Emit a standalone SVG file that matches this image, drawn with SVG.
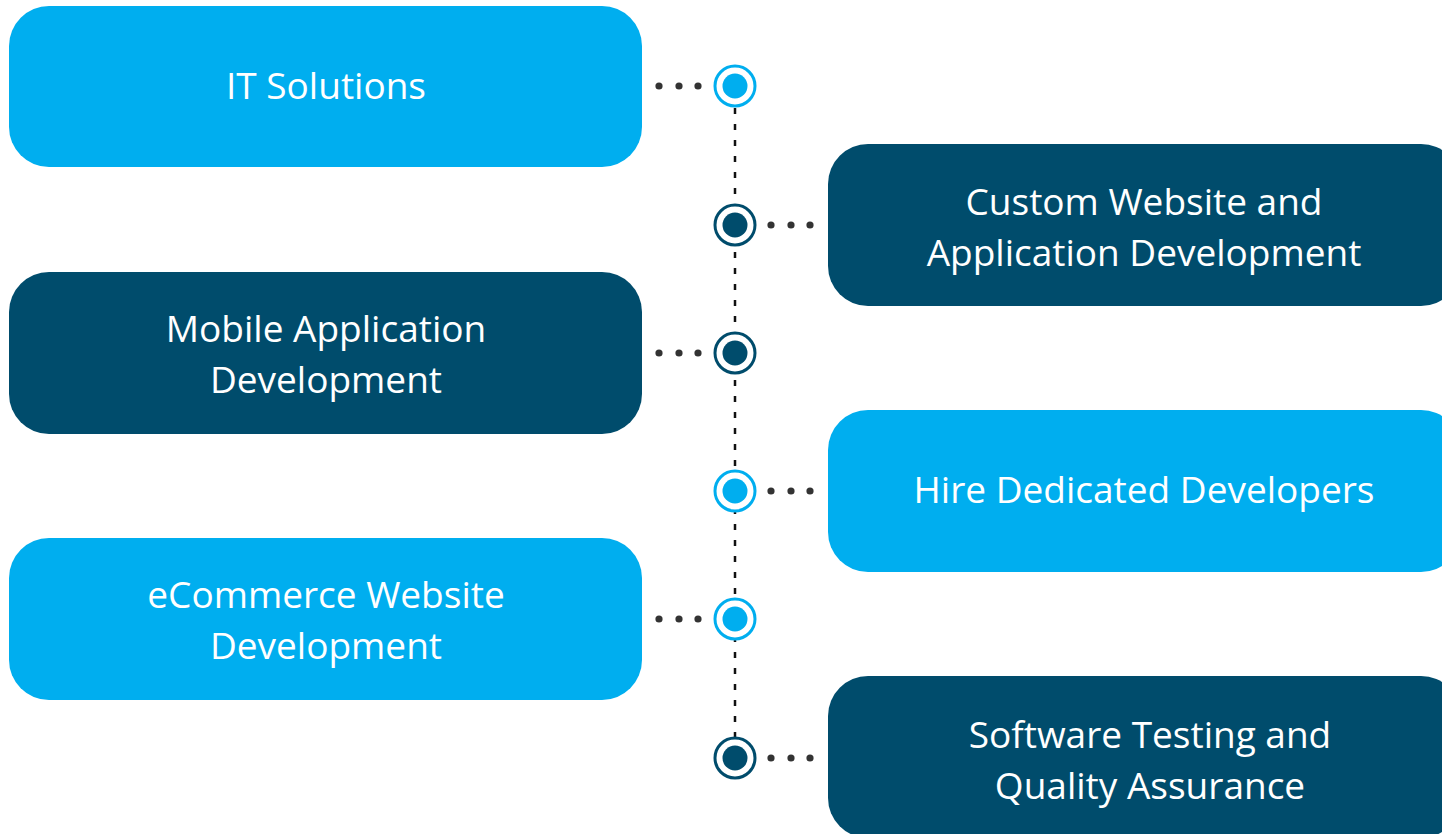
<svg xmlns="http://www.w3.org/2000/svg" width="1442" height="834" viewBox="0 0 1442 834">
<style>
.light{fill:#00AEEF}
.dark{fill:#004C6C}
.t{font-family:"Open Sans","Liberation Sans",sans-serif;font-size:37px;fill:#fff;text-anchor:middle}
.ringL{fill:#fff;stroke:#00AEEF;stroke-width:3}
.ringD{fill:#fff;stroke:#004C6C;stroke-width:3}
.dot{fill:#333}
</style>
<rect width="1442" height="834" fill="#fff"/>
<g id="connectors">
<line x1="735" y1="108" x2="735" y2="740" stroke="#111" stroke-width="2.5" stroke-dasharray="6 10"/>
<g class="dot">
<circle cx="659" cy="86" r="3.6"/><circle cx="679" cy="86" r="3.6"/><circle cx="698" cy="86" r="3.6"/>
<circle cx="771" cy="225" r="3.6"/><circle cx="791" cy="225" r="3.6"/><circle cx="810" cy="225" r="3.6"/>
<circle cx="659" cy="353" r="3.6"/><circle cx="679" cy="353" r="3.6"/><circle cx="698" cy="353" r="3.6"/>
<circle cx="771" cy="491" r="3.6"/><circle cx="791" cy="491" r="3.6"/><circle cx="810" cy="491" r="3.6"/>
<circle cx="659" cy="619" r="3.6"/><circle cx="679" cy="619" r="3.6"/><circle cx="698" cy="619" r="3.6"/>
<circle cx="771" cy="758" r="3.6"/><circle cx="791" cy="758" r="3.6"/><circle cx="810" cy="758" r="3.6"/>
</g>
<circle class="ringL" cx="735" cy="86" r="20"/><circle class="light" cx="735" cy="86" r="12.5"/>
<circle class="ringD" cx="735" cy="225" r="20"/><circle class="dark" cx="735" cy="225" r="12.5"/>
<circle class="ringD" cx="735" cy="353" r="20"/><circle class="dark" cx="735" cy="353" r="12.5"/>
<circle class="ringL" cx="735" cy="491" r="20"/><circle class="light" cx="735" cy="491" r="12.5"/>
<circle class="ringL" cx="735" cy="619" r="20"/><circle class="light" cx="735" cy="619" r="12.5"/>
<circle class="ringD" cx="735" cy="758" r="20"/><circle class="dark" cx="735" cy="758" r="12.5"/>
</g>
<g id="it-solutions">
<rect class="light" x="9" y="6" width="633" height="161" rx="40"/>
<text class="t" x="326" y="99">IT Solutions</text>
</g>
<g id="custom-website">
<rect class="dark" x="828" y="144" width="633" height="162" rx="40"/>
<text class="t" x="1144" y="215">Custom Website and</text>
<text class="t" x="1144" y="266">Application Development</text>
</g>
<g id="mobile-app">
<rect class="dark" x="9" y="272" width="633" height="162" rx="40"/>
<text class="t" x="326" y="342">Mobile Application</text>
<text class="t" x="326" y="393">Development</text>
</g>
<g id="hire-developers">
<rect class="light" x="828" y="410" width="633" height="162" rx="40"/>
<text class="t" x="1144" y="503">Hire Dedicated Developers</text>
</g>
<g id="ecommerce">
<rect class="light" x="9" y="538" width="633" height="162" rx="40"/>
<text class="t" x="326" y="608">eCommerce Website</text>
<text class="t" x="326" y="659">Development</text>
</g>
<g id="software-testing">
<rect class="dark" x="828" y="676" width="633" height="162" rx="40"/>
<text class="t" x="1150" y="748">Software Testing and</text>
<text class="t" x="1150" y="799">Quality Assurance</text>
</g>
</svg>
